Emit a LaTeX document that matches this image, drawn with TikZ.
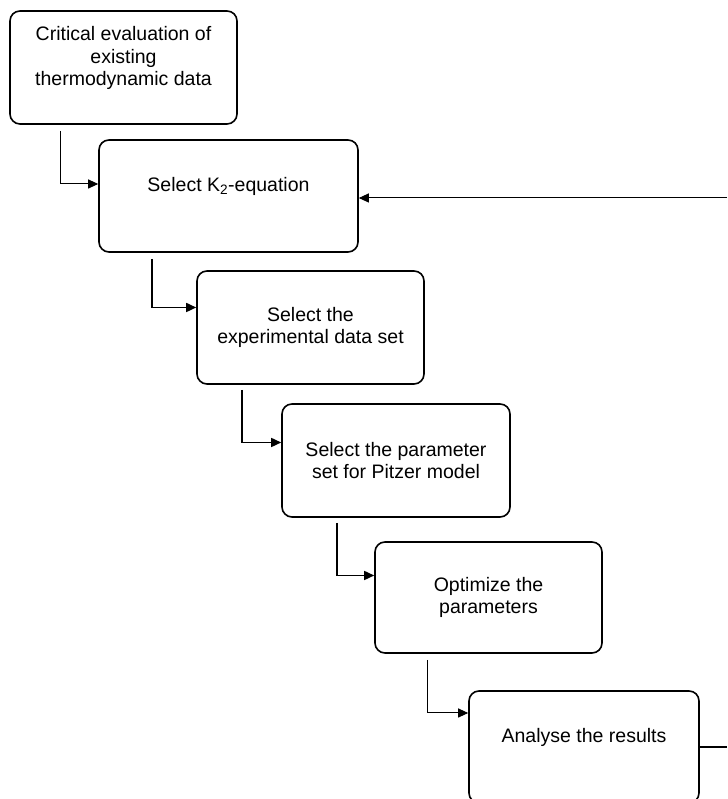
\documentclass[tikz,border=0pt]{standalone}
\usepackage{fontspec}
\setmainfont{Liberation Sans}
\usetikzlibrary{arrows.meta}

\begin{document}
\begin{tikzpicture}[x=1pt,y=1pt,
		stepbox/.style={draw,line width=1.6pt,rounded corners=10pt,align=center,
			inner sep=0pt,font=\fontsize{19.5}{22.5}\selectfont},
		link/.style={line width=1pt,-{Triangle[length=10pt,width=9pt]}}]
	\clip (0,0) rectangle (727,799);
	\node[stepbox,minimum width=227pt,minimum height=113pt] (crit) at (123.5,731.5)
		{Critical evaluation of\\existing\\thermodynamic data\\ };
	\node[stepbox,minimum width=259pt,minimum height=112pt] (keq) at (228.5,603)
		{Select K\textsubscript{2}-equation\\ };
	\node[stepbox,minimum width=227pt,minimum height=113pt] (exper) at (310.5,471.5)
		{Select the\\experimental data set};
	\node[stepbox,minimum width=228pt,minimum height=113pt] (param) at (396,338.5)
		{Select the parameter\\set for Pitzer model};
	\node[stepbox,minimum width=227pt,minimum height=111pt] (optim) at (488.5,201.5)
		{Optimize the\\parameters};
	\node[stepbox,minimum width=230pt,minimum height=112pt] (analy) at (584,52)
		{Analyse the results\\ };
	\coordinate (rt) at (727,0);
	\draw[link] ([xshift=51pt,yshift=-6pt]crit.south west) |- ([yshift=12pt]keq.west);
	\draw[link,line width=1.6pt] ([xshift=54pt,yshift=-6pt]keq.south west) |- ([yshift=20pt]exper.west);
	\draw[link,line width=1.6pt] ([xshift=46pt,yshift=-5pt]exper.south west) |- ([yshift=18pt]param.west);
	\draw[link,line width=1.6pt] ([xshift=56pt,yshift=-5pt]param.south west) |- ([yshift=22pt]optim.west);
	\draw[link] ([xshift=53pt,yshift=-6pt]optim.south west) |- ([yshift=34pt]analy.west);
	\draw[line width=1.6pt] (analy.east) -- (analy.east -| rt);
	\draw[link] ([yshift=-2pt]keq.east -| rt) -- ([yshift=-2pt]keq.east);
\end{tikzpicture}
\end{document}
